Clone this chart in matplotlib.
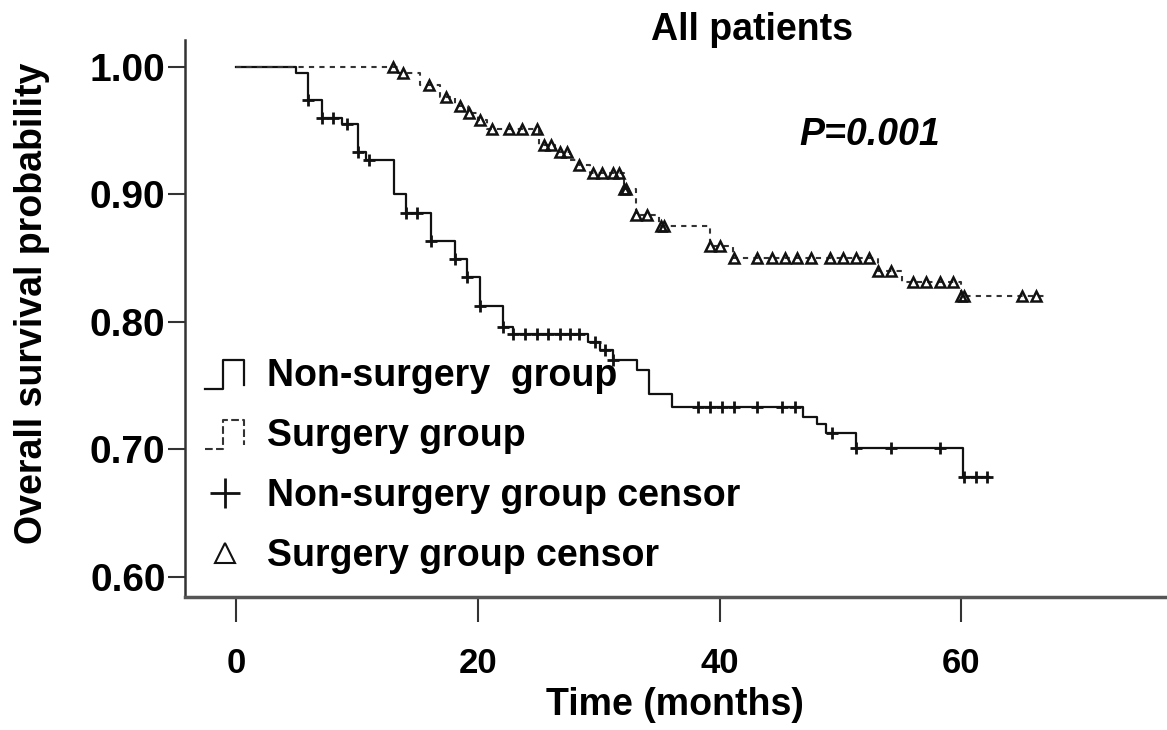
import numpy as np
import matplotlib.pyplot as plt
from matplotlib.lines import Line2D
from matplotlib.legend_handler import HandlerBase

plt.rcParams['font.family'] = ['Liberation Sans', 'DejaVu Sans']
plt.rcParams['font.weight'] = 'bold'

# Kaplan-Meier steps, non-surgery group (months, survival after the drop)
ns_times = [5.0, 6.0, 7.1, 8.8, 10.1, 10.8, 13.1, 14.1, 16.1, 18.1, 19.1, 20.2,
            22.1, 22.9, 29.1, 30.1, 31.2, 33.2, 34.2, 36.1, 46.9, 48.1, 48.8,
            51.3, 60.1]
ns_surv = [0.995, 0.974, 0.960, 0.955, 0.933, 0.927, 0.900, 0.885, 0.863, 0.849,
           0.835, 0.812, 0.796, 0.790, 0.784, 0.778, 0.770, 0.762, 0.743, 0.733,
           0.725, 0.720, 0.713, 0.701, 0.678]
ns_end = 62.3
ns_censor = [6.0, 7.1, 8.0, 9.2, 10.1, 11.0, 14.1, 15.0, 16.1, 18.1, 19.1, 20.2,
             22.1, 22.9, 23.9, 24.9, 25.8, 26.8, 27.6, 28.4, 29.7, 30.5, 31.2,
             38.2, 39.2, 40.2, 41.2, 43.1, 45.2, 46.2, 49.3, 51.3, 54.2, 58.2,
             60.2, 61.2, 62.1]

# surgery group
s_times = [13.4, 15.2, 16.9, 18.1, 19.2, 20.0, 20.8, 25.1, 26.4, 27.6, 28.4, 29.3,
           32.1, 33.1, 35.0, 39.2, 41.1, 53.1, 55.1, 60.0]
s_surv = [0.995, 0.986, 0.976, 0.969, 0.964, 0.958, 0.951, 0.939, 0.933, 0.927,
          0.923, 0.917, 0.904, 0.884, 0.875, 0.859, 0.850, 0.840, 0.831, 0.820]
s_end = 67.0
s_censor = [13.0, 13.8, 16.0, 17.4, 18.5, 19.3, 20.2, 21.2, 22.6, 23.7, 24.9, 25.5,
            26.1, 26.8, 27.4, 28.4, 29.5, 30.3, 31.2, 31.7, 32.1, 32.3, 33.1, 34.0,
            35.2, 35.4, 39.2, 40.0, 41.2, 43.1, 44.3, 45.4, 46.4, 47.6, 49.1, 50.2,
            51.3, 52.4, 53.1, 54.2, 56.0, 57.1, 58.2, 59.3, 60.0, 60.2, 65.0, 66.2]

x_ticks = [0, 20, 40, 60]
y_ticks = [0.60, 0.70, 0.80, 0.90, 1.00]
labels = ['Non-surgery  group', 'Surgery group', 'Non-surgery group censor',
          'Surgery group censor']


def surv_at(t, times, surv):
    idx = np.searchsorted(times, t, side='right')
    return np.r_[1.0, surv][idx]


class StepHandler(HandlerBase):
    # little step-shaped icon for the legend
    def create_artists(self, legend, orig_handle, xdescent, ydescent,
                       width, height, fontsize, trans):
        x0, y0 = -xdescent, -ydescent
        xs = [x0, x0 + 0.45 * width, x0 + 0.45 * width, x0 + width, x0 + width]
        ys = [y0 - 0.1 * height, y0 - 0.1 * height, y0 + 1.0 * height,
              y0 + 1.0 * height, y0 + 0.05 * height]
        ln = Line2D(xs, ys, color=orig_handle.get_color(),
                    lw=orig_handle.get_linewidth(),
                    linestyle=orig_handle.get_linestyle(), transform=trans)
        return [ln]


fig = plt.figure(figsize=(11.67, 7.30), dpi=100)
ax = fig.add_axes([185 / 1167, 133 / 730, 982 / 1167, 557 / 730])

ax.step(np.r_[0, ns_times, ns_end], np.r_[1.0, ns_surv, ns_surv[-1]],
        where='post', color='#111111', lw=1.6)
ax.step(np.r_[0, s_times, s_end], np.r_[1.0, s_surv, s_surv[-1]],
        where='post', color='#333333', lw=1.5, linestyle=(0, (2.5, 2.5)))

ax.plot(ns_censor, surv_at(ns_censor, ns_times, ns_surv), '+', color='#111111',
        ms=8, mew=2.0)
ax.plot(s_censor, surv_at(s_censor, s_times, s_surv), '^', color='#111111',
        mfc='none', ms=7, mew=1.8)

ax.set_xlim(-4.2, 77)
ax.set_ylim(0.584, 1.021)
ax.set_xticks(x_ticks)
ax.set_yticks(y_ticks)
ax.set_yticklabels([f'{v:.2f}' for v in y_ticks])
ax.tick_params(axis='y', length=12, width=1.5, pad=2, labelsize=28,
               color='#333333')
ax.tick_params(axis='x', length=18, width=1.5, pad=18, labelsize=25,
               color='#333333')
for s in ['top', 'right']:
    ax.spines[s].set_visible(False)
ax.spines['left'].set_linewidth(1.8)
ax.spines['left'].set_color('#333333')
ax.spines['bottom'].set_linewidth(2.5)
ax.spines['bottom'].set_color('#555555')

fig.text(32 / 1167, 1 - 303 / 730, 'Overall survival probability', rotation=90,
         ha='center', va='center', fontsize=27, fontweight='bold')
fig.text(675 / 1167, 1 - 705 / 730, 'Time (months)', ha='center', va='center',
         fontsize=27, fontweight='bold')
fig.text(752 / 1167, 1 - 30 / 730, 'All patients', ha='center', va='center',
         fontsize=27, fontweight='bold')
fig.text(870 / 1167, 1 - 135 / 730, 'P=0.001', ha='center', va='center',
         fontsize=27, fontweight='bold', fontstyle='italic')

h_ns = Line2D([], [], color='#111111', lw=1.6)
h_s = Line2D([], [], color='#333333', lw=1.5, linestyle=(0, (1.5, 1.5)))
h_nsc = Line2D([], [], color='#111111', marker='+', linestyle='none', ms=22,
               mew=2.0)
h_sc = Line2D([], [], color='#111111', marker='^', mfc='none', linestyle='none',
              ms=15, mew=1.5)
fig.legend([h_ns, h_s, h_nsc, h_sc], labels, loc='upper left',
           bbox_to_anchor=(205 / 1167, 1 - 358 / 730), frameon=False,
           fontsize=27, handlelength=1.05, handletextpad=0.6,
           labelspacing=0.64, borderpad=0, borderaxespad=0,
           handler_map={h_ns: StepHandler(), h_s: StepHandler()})

fig.savefig('out.png', dpi=100)
